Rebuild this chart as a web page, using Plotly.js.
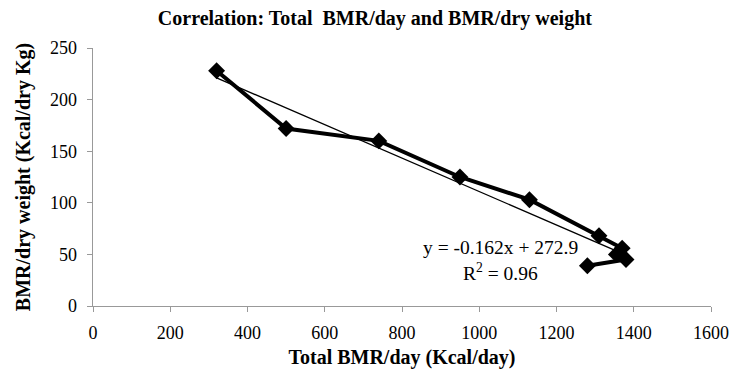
<!DOCTYPE html>
<html>
<head>
<meta charset="utf-8">
<script src="https://cdn.plot.ly/plotly-3.0.1.min.js"></script>
<style>html,body{margin:0;padding:0;background:#fff;}#chart{width:738px;height:376px;}</style>
</head>
<body>
<div id="chart"></div>
<script>
// Data
const totalBMR = [320, 500, 740, 950, 1130, 1310, 1370, 1355, 1380, 1280];   // Kcal/day
const bmrPerDryWeight = [228, 172, 160, 125, 103, 68, 56, 50, 45, 39];     // Kcal/dry Kg
// Linear trendline as printed on the chart
const trendSlope = -0.162;
const trendIntercept = 272.9;
const trendLabel = 'y = -0.162x + 272.9';
const r2Label = 'R<sup>2</sup> = 0.96';
const xTicks = [0, 200, 400, 600, 800, 1000, 1200, 1400, 1600];
const yTicks = [0, 50, 100, 150, 200, 250];

const xMin = Math.min(...totalBMR), xMax = Math.max(...totalBMR);
const trendX = [xMin, xMax];
const trendY = trendX.map(v => trendSlope * v + trendIntercept);

const serif = '"Liberation Serif", "DejaVu Serif", serif';

const data = [
  {
    x: trendX, y: trendY, type: 'scatter', mode: 'lines',
    line: {color: '#000', width: 1.3}, hoverinfo: 'skip', showlegend: false
  },
  {
    x: totalBMR, y: bmrPerDryWeight, type: 'scatter', mode: 'lines+markers',
    line: {color: '#000', width: 4},
    marker: {symbol: 'diamond', size: 13, color: '#000'},
    showlegend: false
  }
];

const layout = {
  width: 738, height: 376,
  margin: {l: 93, r: 27, t: 48, b: 70},
  paper_bgcolor: '#fff', plot_bgcolor: '#fff',
  font: {family: serif, size: 18, color: '#000'},
  title: {
    text: '<b>Correlation: Total  BMR/day and BMR/dry weight</b>',
    font: {family: serif, size: 20, color: '#000'},
    x: 0.508, xanchor: 'center', y: 0.952, yanchor: 'middle'
  },
  xaxis: {
    range: [0, 1600], tickvals: xTicks, ticktext: xTicks.map(String),
    showgrid: false, zeroline: false, showline: true, linecolor: '#999', linewidth: 1.3,
    ticks: 'outside', ticklen: 5, tickcolor: '#999', tickwidth: 1, ticklabelstandoff: 5,
    tickfont: {family: serif, size: 18, color: '#000'},
    title: {text: '<b>Total BMR/day (Kcal/day)</b>', font: {family: serif, size: 20, color: '#000'}, standoff: 8}
  },
  yaxis: {
    range: [0, 250], tickvals: yTicks, ticktext: yTicks.map(String),
    showgrid: false, zeroline: false, showline: true, linecolor: '#999', linewidth: 1.3,
    ticks: 'outside', ticklen: 5, tickcolor: '#999', tickwidth: 1, ticklabelstandoff: 6,
    tickfont: {family: serif, size: 18, color: '#000'},
    title: {text: '<b>BMR/dry weight (Kcal/dry Kg)</b>', font: {family: serif, size: 20, color: '#000'}, standoff: 14}
  },
  annotations: [
    {xref: 'paper', yref: 'paper', x: 0.660, y: 0.225, text: trendLabel, showarrow: false,
     font: {family: serif, size: 19.5, color: '#000'}, xanchor: 'center', yanchor: 'middle'},
    {xref: 'paper', yref: 'paper', x: 0.660, y: 0.132, text: r2Label, showarrow: false,
     font: {family: serif, size: 19.5, color: '#000'}, xanchor: 'center', yanchor: 'middle'}
  ]
};

Plotly.newPlot('chart', data, layout, {displayModeBar: false, staticPlot: true});
</script>
</body>
</html>
